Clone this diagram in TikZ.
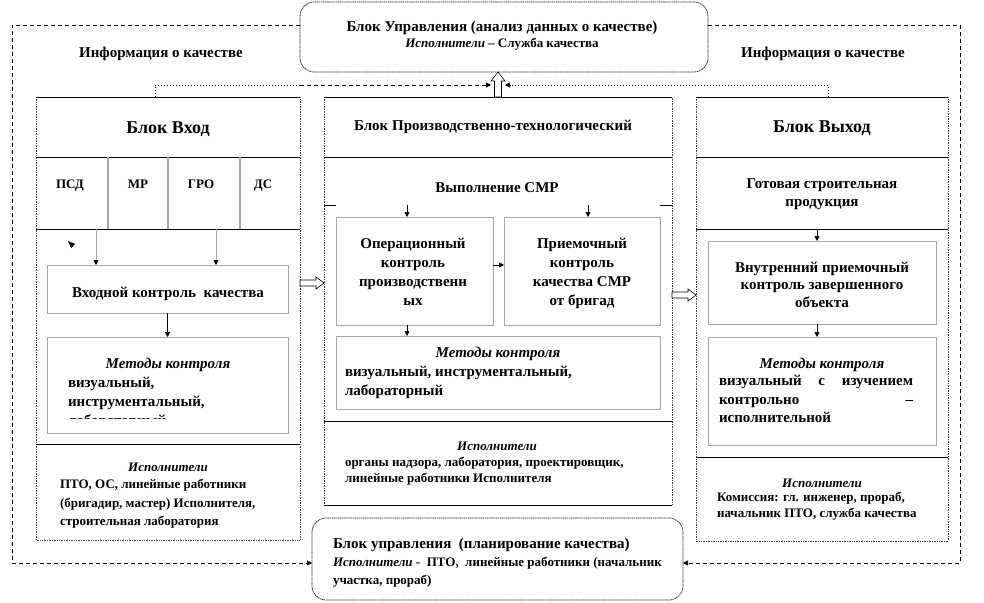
\documentclass[tikz,border=0pt]{standalone}
\usepackage{fontspec}
\setmainfont{Liberation Serif}
\usetikzlibrary{arrows.meta,calc}
\newcommand\fntA{\fontsize{15}{19}\selectfont\bfseries}
\newcommand\fntT{\fontsize{18}{22}\selectfont\bfseries}
\newcommand\fntS{\fontsize{13}{17}\selectfont\bfseries}
\newcommand\fntI{\fontsize{13}{17}\selectfont\bfseries\itshape}
\newcommand\fntM{\fontsize{15}{19}\selectfont\bfseries\itshape}
\begin{document}
\begin{tikzpicture}[x=1pt,y=-1pt,
  area/.style={inner sep=0,outer sep=0,anchor=north west},
  ibox/.style={draw=gray!70,line width=1pt,inner sep=0,outer sep=0,anchor=north west},
  rbox/.style={draw=black!85,dash pattern=on 1.5pt off 0.6pt,line width=0.7pt,rounded corners=14pt,inner sep=0,outer sep=0,anchor=north west},
  edgeline/.style={black!75,densely dotted,line width=0.7pt},
  rule/.style={black,line width=0.8pt},
  cellline/.style={gray!70,line width=1.5pt},
  tip/.style={-{Triangle[length=5pt,width=5pt,color=black]}},
  arr/.style={tip,black,line width=0.6pt},
  garr/.style={tip,gray!70,line width=1pt},
  loopline/.style={black,line width=0.6pt,dash pattern=on 4pt off 3pt},
  dotline/.style={black,line width=0.6pt,dash pattern=on 1pt off 2pt},
  hollow/.style={draw=black,fill=white,line width=0.6pt,line join=miter},
  tc/.style={inner sep=0,outer sep=0,anchor=base},
  tl/.style={inner sep=0,outer sep=0,anchor=base west},
]
\useasboundingbox (0,0) rectangle (984,602);

% ---------- top control block ----------
\node[rbox,minimum width=408pt,minimum height=70pt] (T) at (300,2) {};
\node[tc,font=\fntA] (T1) at (502,32) {Блок Управления (анализ данных о качестве)};
\node[tc,font=\fntS] (T2) at (502,48) {\textit{Исполнители} – Служба качества};

\node[tc,font=\fntA] (IL) at (161,58) {Информация о качестве};
\node[tc,font=\fntA] (IR) at (823,58) {Информация о качестве};

% ---------- left block ----------
\node[area,minimum width=264pt,minimum height=443pt] (L) at (36,97) {};
\draw[edgeline] (L.north west) rectangle (L.south east);
\draw[rule] (L.north west) -- (L.north east);
\draw[rule] (36,157) -- (300,157);
\draw[rule] (36,229) -- (300,229);
\draw[rule] (36,444) -- (300,444);
\draw[cellline] (108,157) -- (108,229);
\draw[cellline] (168,157) -- (168,229);
\draw[cellline] (240,157) -- (240,229);
\node[tc,font=\fntT] (L1) at (168,133) {Блок Вход};
\node[tc,font=\fntS] (L2a) at (70,188) {ПСД};
\node[tc,font=\fntS] (L2b) at (138,188) {МР};
\node[tc,font=\fntS] (L2c) at (201,188) {ГРО};
\node[tc,font=\fntS] (L2d) at (263,188) {ДС};
\fill[black] (68,241) -- (75,244) -- (71,248) -- cycle;

\node[ibox,minimum width=241pt,minimum height=48pt] (Lin) at (47,265) {};
\node[tc,font=\fntA] (Lin1) at (168,297) {Входной контроль\ \ качества};
\coordinate (La) at (96,229);
\coordinate (Lb) at (216,229);
\draw[garr] (La) -- (La |- Lin.north);
\draw[garr] (Lb) -- (Lb |- Lin.north);

\node[ibox,minimum width=241pt,minimum height=96pt] (Lmet) at (47,337) {};
\draw[arr] (Lin.south) -- (Lmet.north);
\node[tc,font=\fntM] (Lm1) at (168,368) {Методы контроля};
\node[tl,font=\fntA] (Lm2) at (68,387) {визуальный,};
\node[tl,font=\fntA] (Lm3) at (68,406) {инструментальный,};
\begin{scope}
  \clip (47,337) rectangle (288,418);
  \node[tl,font=\fntA] (Lm4) at (68,425) {лабораторный};
\end{scope}

\node[tc,font=\fntI] (Le1) at (168,471) {Исполнители};
\node[tl,font=\fntS] (Le2) at (60,488) {ПТО, ОС, линейные работники};
\node[tl,font=\fntS] (Le3) at (60,507) {(бригадир, мастер) Исполнителя,};
\node[tl,font=\fntS] (Le4) at (60,525) {строительная лаборатория};

% ---------- middle block ----------
\node[area,minimum width=348pt,minimum height=408pt] (M) at (324,97) {};
\draw[edgeline] (M.north west) rectangle (M.south east);
\draw[rule] (M.north west) -- (M.north east);
\draw[rule] (M.south west) -- (M.south east);
\draw[rule] (324,157) -- (672,157);
\draw[rule] (324,205) -- (336,205);
\draw[rule] (660,205) -- (672,205);
\draw[rule] (324,421) -- (672,421);
\node[tc,font=\fntA] (M1) at (493,130) {Блок Производственно-технологический};
\node[tc,font=\fntA] (M2) at (497,192) {Выполнение СМР};

\node[ibox,minimum width=157pt,minimum height=108pt] (Mop) at (336,217) {};
\node[ibox,minimum width=156pt,minimum height=108pt] (Macc) at (504,217) {};
\coordinate (Ma) at (407,205);
\coordinate (Mb) at (588,205);
\draw[arr] (Ma) -- (Ma |- Mop.north);
\draw[arr] (Mb) -- (Mb |- Macc.north);
\node[tc,font=\fntA] (Mo1) at (413,248) {Операционный};
\node[tc,font=\fntA] (Mo2) at (413,267) {контроль};
\node[tc,font=\fntA] (Mo3) at (413,286) {производственн};
\node[tc,font=\fntA] (Mo4) at (413,305) {ых};
\node[tc,font=\fntA] (Mc1) at (582,248) {Приемочный};
\node[tc,font=\fntA] (Mc2) at (582,267) {контроль};
\node[tc,font=\fntA] (Mc3) at (582,286) {качества СМР};
\node[tc,font=\fntA] (Mc4) at (582,305) {от бригад};
\draw[arr] ([yshift=6pt]Mop.east) -- ([yshift=6pt]Macc.west);

\node[ibox,minimum width=324pt,minimum height=73pt] (Mmet) at (336,336) {};
\draw[arr] ([xshift=-7.5pt]Mop.south) -- ([xshift=-7.5pt]Mop.south |- Mmet.north);
\node[tc,font=\fntM] (Mm1) at (498,357) {Методы контроля};
\node[tl,font=\fntA] (Mm2) at (345,376) {визуальный, инструментальный,};
\node[tl,font=\fntA] (Mm3) at (345,395) {лабораторный};

\node[tc,font=\fntI] (Me1) at (497,450) {Исполнители};
\node[tl,font=\fntS] (Me2) at (345,466) {органы надзора, лаборатория, проектировщик,};
\node[tl,font=\fntS] (Me3) at (345,482) {линейные работники Исполнителя};

% ---------- right block ----------
\node[area,minimum width=252pt,minimum height=444pt] (R) at (696,97) {};
\draw[edgeline] (R.north west) rectangle (R.south east);
\draw[rule] (R.north west) -- (R.north east);
\draw[rule] (696,157) -- (948,157);
\draw[rule] (696,229) -- (948,229);
\draw[rule] (696,457) -- (948,457);
\node[tc,font=\fntT] (R1) at (822,132) {Блок Выход};
\node[tc,font=\fntA] (R2) at (822,188) {Готовая строительная};
\node[tc,font=\fntA] (R3) at (822,206.5) {продукция};

\node[ibox,minimum width=228pt,minimum height=83pt] (Rin) at (708,241) {};
\coordinate (Ra) at (817,229);
\draw[arr] (Ra) -- (Ra |- Rin.north);
\node[tc,font=\fntA] (Ri1) at (822,272) {Внутренний приемочный};
\node[tc,font=\fntA] (Ri2) at (822,289.5) {контроль завершенного};
\node[tc,font=\fntA] (Ri3) at (822,307) {объекта};

\node[ibox,minimum width=228pt,minimum height=108pt] (Rmet) at (708,337) {};
\draw[arr] ([xshift=-5pt]Rin.south) -- ([xshift=-5pt]Rmet.north);
\node[tc,font=\fntM] (Rm1) at (822,368) {Методы контроля};
\node[tl,font=\fntA] (Rm2) at (719,385.5) {\hbox to 194pt{визуальный\hfill с\hfill изучением}};
\node[tl,font=\fntA] (Rm3) at (719,404.5) {\hbox to 194pt{контрольно\hfill –}};
\node[tl,font=\fntA] (Rm4) at (719,422.5) {исполнительной};

\node[tc,font=\fntI] (Re1) at (822,487) {Исполнители};
\node[tl,font=\fntS] (Re2) at (717,501) {Комиссия: гл. инженер, прораб,};
\node[tl,font=\fntS] (Re3) at (717,517.5) {начальник ПТО, служба качества};

% ---------- bottom control block ----------
\node[rbox,minimum width=371pt,minimum height=82pt] (B) at (312,518) {};
\node[tl,font=\fntA] (B1) at (333,548) {Блок управления\ \ (планирование качества)};
\node[tl,font=\fntS] (B2) at (333,566) {\textit{Исполнители} -\ \ ПТО,\ \ линейные работники (начальник};
\node[tl,font=\fntS] (B3) at (333,584) {участка, прораб)};

% ---------- hollow block arrows ----------
\coordinate (h1) at (L.east |- 0,283);
\draw[hollow] (h1) ++(0,-3) -- ++(16,0) -- ++(0,-3) -- ++(8,6) -- ++(-8,6) -- ++(0,-3) -- ++(-16,0) -- cycle;
\coordinate (h2) at (M.east |- 0,295);
\draw[hollow] (h2) ++(0,-3) -- ++(16,0) -- ++(0,-3) -- ++(8,6) -- ++(-8,6) -- ++(0,-3) -- ++(-16,0) -- cycle;
\coordinate (h3) at (M.north);
\draw[hollow] (h3) ++(-3.5,0) -- ++(0,-16) -- ++(-3.5,0) -- ++(7,-9) -- ++(7,9) -- ++(-3.5,0) -- ++(0,16) -- cycle;

% ---------- information loop lines ----------
\coordinate (cBL) at (12,563);
\coordinate (cBR) at (960,563);
\draw[loopline,tip] ([yshift=12pt]T.west) -| (cBL) -- ([yshift=-4pt]B.west);
\draw[loopline,tip] ([yshift=12pt]T.east) -| (cBR) -- ([yshift=-4pt]B.east);

\coordinate (dL) at (155,97);
\coordinate (dMid) at (300,85);
\coordinate (UAl) at (491,85);
\coordinate (dR) at (828,97);
\coordinate (UAr) at (505,85);
\draw[dotline] (dL) |- (dMid);
\draw[loopline,tip] (dMid) -- (UAl);
\draw[dotline,tip] (dR) |- (UAr);
\end{tikzpicture}
\end{document}
